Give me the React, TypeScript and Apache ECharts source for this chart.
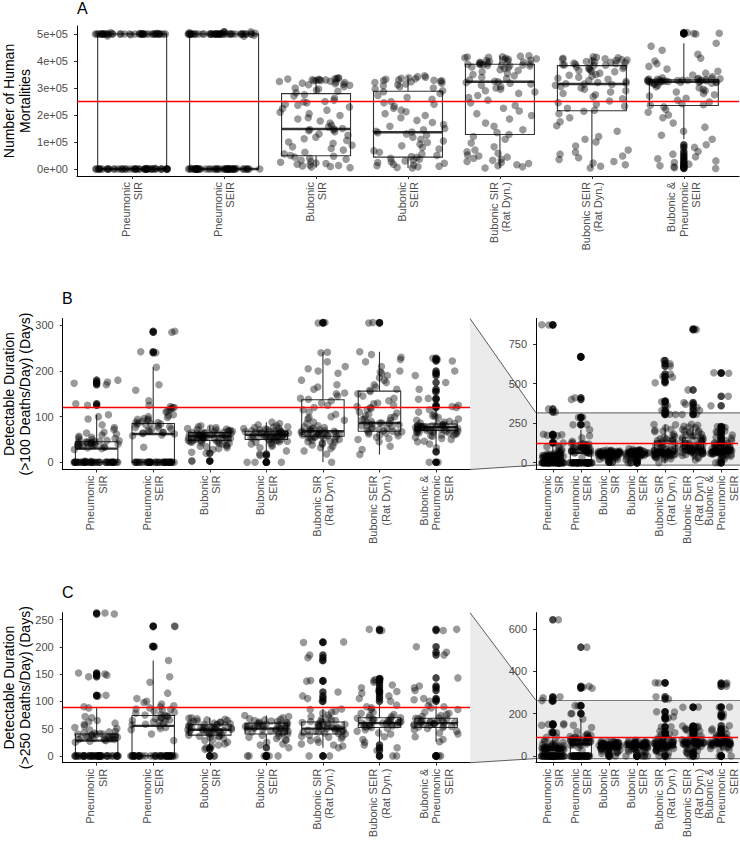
import React, { useEffect, useRef } from 'react';
import * as echarts from 'echarts';

const FONT = '"Liberation Sans", Arial, Helvetica, sans-serif';

const CATEGORIES = [
  'Pneumonic\nSIR',
  'Pneumonic\nSEIR',
  'Bubonic\nSIR',
  'Bubonic\nSEIR',
  'Bubonic SIR\n(Rat Dyn.)',
  'Bubonic SEIR\n(Rat Dyn.)',
  'Bubonic &\nPneumonic\nSEIR',
];

// ---------- Panel A: number of human mortalities (thousands) ----------
const A_PNEU_SIR_K = [
  500, 500, 500, 500, 500, 500, 500, 500, 500, 500,
  500, 500, 500, 500, 500, 500, 500, 500, 500, 500,
  500, 500, 500, 500, 500, 500, 500, 500, 500, 500,
  500, 500, 500, 500, 500, 500, 500, 500, 500, 500,
  502, 503, 497, 493, 505,
  0, 0, 0, 0, 0, 0, 0, 0, 0, 0,
  0, 0, 0, 0, 0, 0, 0, 0, 0, 0,
  0, 0, 0, 0, 0, 0, 0, 0, 0, 0,
  0, 0, 0, 0, 0, 0, 0, 0, 0, 0,
  0, 0, 0, 0, 0, 0, 0, 0, 2, 3,
];
const A_PNEU_SEIR_K = [
  500, 500, 500, 500, 500, 500, 500, 500, 500, 500,
  500, 500, 500, 500, 500, 500, 500, 500, 500, 500,
  500, 500, 500, 500, 500, 500, 500, 500, 500, 500,
  500, 500, 500, 500, 500, 500, 500, 500, 500, 500,
  500, 500, 505, 503, 495, 498, 508, 492,
  0, 0, 0, 0, 0, 0, 0, 0, 0, 0,
  0, 0, 0, 0, 0, 0, 0, 0, 0, 0,
  0, 0, 0, 0, 0, 0, 0, 0, 0, 0,
  0, 0, 0, 0, 0, 0, 0, 0, 0, 0,
  0, 0, 0, 0, 0, 0, 0, 0, 0, 0, 3, 2,
];
const A_BUB_SIR_K = [
  338, 336, 335, 334, 333, 332, 331, 330, 330, 329, 328, 327, 325, 324, 322, 320, 318, 316, 314, 312, 310, 305, 300, 296, 292, 288,
  282, 275, 270, 262, 255, 250, 248, 245, 240, 236, 230, 224,
  218, 210, 205, 198, 190, 185, 178, 170, 162, 156,
  150, 148, 146, 145, 142, 138, 130, 125, 118, 112, 106,
  100, 95, 88, 82, 76, 70, 62, 56, 50,
  47, 44, 40, 36, 32, 28, 25, 22, 20, 18, 15, 13, 11, 9, 7, 5,
];
const A_BUB_SEIR_K = [
  345, 342, 340, 338, 336, 334, 332, 330, 329, 328, 327, 325, 323, 320, 318, 315, 312, 308, 305, 300, 296, 290,
  286, 280, 272, 265, 258, 250, 245, 240, 232, 225, 218,
  212, 205, 198, 190, 180, 172, 165, 158, 150, 145,
  140, 137, 134, 130, 125, 118, 110, 104,
  98, 92, 86, 80, 74, 68, 62, 56, 50, 46,
  43, 40, 36, 32, 30, 27, 24, 21, 18, 15, 12, 10, 8, 6, 4,
];
const A_BUB_SIR_RAT_K = [
  419, 418, 416, 415, 414, 412, 410, 408, 406, 405, 403, 402, 400, 398, 396, 395, 393, 392, 390, 389, 388, 387, 386, 385, 384, 383, 382, 381,
  378, 375, 372, 368, 365, 360, 355, 350, 345, 340, 335, 330, 325, 323, 320, 318, 315, 310, 305, 300,
  295, 290, 285, 280, 272, 265, 255, 245, 235, 225, 215, 205,
  198, 185, 170, 158, 145, 135, 128,
  120, 110, 96, 82, 70, 64, 58, 52, 48, 44, 40, 36, 32, 28, 24, 20, 16, 12, 8, 4,
];
const A_BUB_SEIR_RAT_K = [
  416, 414, 412, 410, 408, 406, 405, 404, 402, 400, 398, 396, 395, 394, 392, 390, 388, 386, 385, 384, 383,
  380, 378, 375, 372, 370, 368, 365, 362, 360, 355, 350, 347, 344, 340, 336, 332, 328, 324, 320, 318, 316, 315, 313, 310, 306,
  300, 295, 290, 285, 280, 275, 268, 260, 252, 245, 240, 232, 225, 218,
  214, 205, 190, 175, 160, 140, 120, 110, 100, 85, 70, 62, 55, 48, 42, 35, 28, 22, 16, 10, 4,
];
const A_BUB_PNEU_K = [
  505, 503, 502, 500, 466, 455, 440, 425, 410, 400, 390, 380, 370, 362, 355, 348, 342,
  338, 336, 335, 334, 333, 332, 332, 331, 330, 330, 329, 329, 328, 328, 327, 327, 326, 326, 325, 325, 324, 324, 323, 323, 322, 322, 321, 321, 320, 320, 318, 316, 314,
  310, 305, 300, 295, 290, 285, 280, 275, 270, 262, 255, 248, 242, 238, 236,
  230, 220, 210, 200, 190, 170, 155, 140, 125, 110,
  90, 80, 65, 55, 45, 38, 30, 24, 18, 12, 8, 5, 2,
];
// box stats [whisker low, Q1, median, Q3, whisker high] (thousands)
const A_BOX_K = [
  [0, 0, 0, 500, 505],
  [0, 0, 0, 500, 505],
  [5, 49, 148, 279, 338],
  [4, 44, 136, 288, 345],
  [4, 128, 323, 388, 419],
  [4, 216, 315, 383, 416],
  [110, 235, 323, 330, 466],
];
const A_REF = 250000;
const A_TICKS = [0, 100000, 200000, 300000, 400000, 500000];

// ---------- Panel B: detectable duration (>100 deaths/day), days ----------
const B_PNEU_SIR = [
  0, 0, 0, 0, 0, 0, 0, 0, 0, 0, 0, 0, 0, 0, 0, 0, 0, 0, 0, 0,
  0, 0, 0, 0, 0, 0, 0, 0, 0, 0, 0, 0, 0, 0, 0, 0, 0, 0, 0, 0,
  0, 0, 2, 2, 2,
  28, 30, 32, 33, 34, 35, 35, 36, 37, 38, 38, 39, 40, 40, 41, 42, 42, 43, 44, 44, 45, 45, 46, 47, 48, 49, 50, 52, 54, 55, 57, 60,
  62, 64, 66, 72, 76, 82, 95, 100, 104,
  125, 128, 170, 173, 176, 180, 320, 340, 870, 872,
];
const B_PNEU_SEIR = [
  0, 0, 0, 0, 0, 0, 0, 0, 0, 0, 0, 0, 0, 0, 0, 0, 0, 0, 0, 0,
  0, 0, 0, 0, 0, 0, 0, 0, 0, 0, 0, 0, 0, 0, 0, 0, 0, 0, 0, 0,
  33, 58, 60, 62, 63, 64, 65, 66, 68, 70, 72, 73, 75, 76, 78, 80, 82, 83, 84, 85, 86, 87, 88, 90, 92, 94, 95, 96, 98, 100, 102, 104,
  110, 112, 115, 118, 120, 120, 122, 125, 135, 158, 170,
  208, 240, 242, 285, 287, 400, 410, 668, 670,
];
const B_BUB_SIR = [
  3, 3, 20, 22, 28, 30, 32, 34, 35, 36, 38, 40, 41, 42, 43, 44, 45, 45, 46, 47, 48, 48, 49, 50, 50, 51, 52, 52, 53, 54, 54, 55, 55, 56,
  56, 57, 57, 58, 58, 59, 59, 60, 60, 61, 61, 62, 62, 63, 63, 64, 64, 65, 65, 66, 67, 68, 68, 69, 70, 71, 72, 73, 74, 75, 76, 78, 80,
];
const B_BUB_SEIR = [
  0, 0, 0, 15, 18, 25, 32, 35, 38, 40, 42, 44, 45, 46, 47, 48, 49, 50, 50, 51, 52, 53, 54, 55, 55, 56, 57, 57, 58, 58, 59, 59, 60, 60,
  61, 61, 62, 62, 63, 63, 64, 64, 65, 65, 66, 66, 67, 67, 68, 68, 69, 70, 71, 72, 73, 74, 75, 76, 77, 78, 80, 82, 85, 88,
];
const B_BUB_SIR_RAT = [
  0, 18, 25, 30, 32, 35, 38, 40, 42, 44, 45, 46, 48, 50, 50, 52, 53, 54, 55, 56, 57, 58, 58, 59, 60, 60, 61, 62, 62, 63, 64, 65, 66, 66,
  67, 68, 68, 69, 70, 71, 72, 74, 75, 76, 78, 80, 85, 88, 92, 95, 98, 100, 105, 110, 115, 120, 125, 130, 135, 138, 140, 145, 150, 152,
  160, 165, 170, 180, 195, 200, 205, 210, 220, 240, 241,
  305, 306, 320, 330, 360, 385, 390, 505, 515, 540, 545, 560, 610, 625, 645,
];
const B_BUB_SEIR_RAT = [
  17, 28, 35, 45, 50, 52, 55, 58, 60, 62, 64, 65, 66, 67, 68, 69, 70, 72, 74, 75, 76, 78, 80, 80, 82, 84, 85, 86, 86, 88, 90, 92, 94, 95,
  98, 100, 102, 105, 108, 110, 115, 118, 120, 122, 125, 128, 130, 135, 140, 145, 150, 155, 158, 160, 165, 170, 175, 180, 185, 190, 195,
  198, 200, 210, 220, 225, 230, 236, 242,
  305, 306, 330, 350, 370, 380, 460, 840, 845,
];
const B_BUB_PNEU = [
  0, 0, 23, 46, 32, 40, 45, 50, 52, 55, 57, 58, 60, 60, 62, 63, 64, 65, 65, 66, 67, 68, 68, 69, 70, 70, 71, 71, 72, 72, 73, 73, 74, 74,
  75, 75, 76, 76, 77, 77, 78, 78, 79, 79, 80, 80, 81, 82, 83, 84, 85, 86, 88, 90, 92, 95, 98, 100, 102, 105, 110, 115,
  120, 122, 125, 138, 140, 155, 160, 175, 190, 195, 200, 222, 225, 228, 360, 420, 565, 568,
];
const B_BOX = [
  [0, 0, 30, 45, 104],
  [0, 0, 62, 85, 208],
  [22, 48, 57, 65, 80],
  [25, 50, 60, 68, 88],
  [0, 57, 68, 137, 241],
  [17, 68, 86, 156, 242],
  [32, 70, 77, 84, 115],
];
const B_REF = 120;
const B_TICKS = [0, 100, 200, 300];
const BZ_TICKS = [0, 250, 500, 750];

// ---------- Panel C: detectable duration (>250 deaths/day), days ----------
const C_PNEU_SIR = [
  0, 0, 0, 0, 0, 0, 0, 0, 0, 0, 0, 0, 0, 0, 0, 0, 0, 0, 0, 0,
  0, 0, 0, 0, 0, 0, 0, 0, 0, 0, 0, 0, 0, 0, 0, 0, 0, 0, 0, 0,
  0, 0, 0, 0,
  25, 27, 28, 29, 30, 30, 31, 32, 32, 33, 33, 34, 34, 35, 35, 36, 36, 37, 38, 38, 39, 40, 40, 41, 42, 43, 44, 45, 48, 50, 52, 55,
  58, 60, 62, 65, 70, 72, 88, 90,
  110, 111, 145, 148, 150, 152, 260, 262, 275, 280, 645,
];
const C_PNEU_SEIR = [
  0, 0, 0, 0, 0, 0, 0, 0, 0, 0, 0, 0, 0, 0, 0, 0, 0, 0, 0, 0,
  0, 0, 0, 0, 0, 0, 0, 0, 0, 0, 0, 0, 0, 0, 0, 0, 0, 0, 0, 0,
  28, 40, 48, 50, 52, 55, 57, 58, 60, 62, 63, 64, 65, 66, 68, 70, 70, 72, 73, 74, 75, 76, 78, 80, 82, 84, 85, 86, 88, 90, 92, 95,
  98, 100, 105, 115, 135, 145, 175,
  200, 201, 237, 238, 320, 325, 330, 515,
];
const C_BUB_SIR = [
  0, 0, 12, 15, 18, 20, 22, 25, 28, 30, 32, 34, 35, 36, 37, 38, 39, 40, 41, 42, 43, 44, 45, 45, 46, 46, 47, 47, 48, 48, 49, 49, 50, 50,
  51, 51, 52, 52, 53, 54, 55, 55, 56, 57, 58, 58, 59, 60, 60, 61, 62, 63, 64, 65, 66, 67, 68, 69, 70,
];
const C_BUB_SEIR = [
  0, 0, 0, 0, 0, 15, 20, 22, 25, 28, 30, 32, 34, 36, 38, 40, 41, 42, 43, 44, 45, 46, 47, 48, 48, 49, 50, 50, 51, 51, 52, 52, 53, 53,
  54, 55, 55, 56, 57, 57, 58, 58, 59, 60, 60, 61, 62, 63, 64, 65, 66, 67, 68, 70, 72, 74,
];
const C_BUB_SIR_RAT = [
  0, 0, 15, 18, 20, 22, 25, 28, 30, 32, 34, 35, 36, 38, 40, 41, 42, 43, 44, 45, 46, 46, 47, 48, 48, 49, 50, 50, 51, 52, 53, 54, 55, 55,
  56, 57, 58, 59, 60, 61, 62, 63, 64, 65, 66, 68, 70, 72, 75, 78, 80, 82, 85, 86,
  100, 105, 110, 117, 137, 138, 175, 180, 185, 208, 209, 270, 280, 345, 346,
];
const C_BUB_SEIR_RAT = [
  0, 0, 10, 15, 20, 25, 30, 35, 40, 42, 45, 48, 50, 52, 53, 54, 55, 55, 56, 57, 58, 58, 59, 60, 60, 61, 61, 62, 62, 63, 64, 65, 66, 67,
  68, 69, 70, 70, 72, 74, 76, 78, 80, 85, 88, 90, 93,
  100, 105, 110, 115, 118, 120, 125, 130, 135, 138, 140, 142, 230, 232,
];
const C_BUB_PNEU = [
  0, 0, 0, 26, 30, 35, 40, 42, 45, 48, 50, 52, 53, 54, 55, 56, 56, 57, 58, 58, 59, 60, 60, 61, 61, 62, 62, 63, 64, 65, 66, 67, 68, 69,
  70, 72, 74, 76, 78, 80, 85, 88, 90, 92,
  100, 103, 105, 120, 125, 128, 143, 185, 190, 200, 230, 232, 330, 340, 345,
];
const C_BOX = [
  [0, 0, 28, 40, 90],
  [0, 0, 55, 74, 175],
  [18, 38, 48, 57, 70],
  [20, 40, 50, 60, 74],
  [15, 40, 50, 62, 86],
  [25, 52, 60, 70, 93],
  [26, 52, 60, 69, 92],
];
const C_REF = 90;
const C_TICKS = [0, 50, 100, 150, 200, 250];
const CZ_TICKS = [0, 200, 400, 600];

// ---------- layout (pixels / axis ranges) ----------
const GRID_A = { left: 77, top: 26, width: 662, height: 150, yMin: -25900, yMax: 529600 };
const GRID_B = { left: 62.7, top: 318.5, width: 407.3, height: 151, yMin: -15.75, yMax: 315 };
const GRID_BZ = { left: 536, top: 318.5, width: 202, height: 151, yMin: -43, yMax: 911 };
const GRID_C = { left: 62.7, top: 612.7, width: 407.3, height: 150, yMin: -12.5, yMax: 262.5 };
const GRID_CZ = { left: 536, top: 612.7, width: 202, height: 150, yMin: -32, yMax: 678 };

const X_MIN = -0.6;
const X_MAX = 6.6;
const CAT_IDX = [0, 1, 2, 3, 4, 5, 6];
// empty labels at the axis ends keep ECharts from hiding the outer category labels
const LABEL_POS = [X_MIN, ...CAT_IDX, X_MAX];

function jitter(g: number, k: number, p: number) {
  const s = Math.sin(g * 127.1 + k * 311.7 + p * 74.7) * 43758.5453;
  return (s - Math.floor(s) - 0.5) * 0.8;
}

function buildPanel(
  idx: number,
  grid: any,
  groups: number[][],
  boxes: number[][],
  scale: number,
  ref: number,
  ticks: number[],
  fmt: (v: number) => string
) {
  const gridOpt = { left: grid.left, top: grid.top, width: grid.width, height: grid.height, containLabel: false };
  const xAxis = {
    type: 'value',
    gridIndex: idx,
    min: X_MIN,
    max: X_MAX,
    axisLine: { show: true, onZero: false, lineStyle: { color: '#000', width: 1 } },
    axisTick: { show: true, length: 3, customValues: CAT_IDX, lineStyle: { color: '#333', width: 1 } },
    axisLabel: {
      customValues: LABEL_POS,
      formatter: (v: number) => (Math.abs(v - Math.round(v)) < 1e-6 ? CATEGORIES[Math.round(v)] ?? '' : ''),
      rotate: 90,
      margin: 6,
      fontSize: 11,
      lineHeight: 12.5,
      color: '#4d4d4d',
      fontFamily: FONT,
      hideOverlap: false,
      showMinLabel: true,
      showMaxLabel: true,
      interval: 0,
    },
    splitLine: { show: false },
  };
  const yAxis = {
    type: 'value',
    gridIndex: idx,
    min: grid.yMin,
    max: grid.yMax,
    axisLine: { show: true, onZero: false, lineStyle: { color: '#000', width: 1 } },
    axisTick: { show: true, length: 3, customValues: ticks, lineStyle: { color: '#333', width: 1 } },
    axisLabel: {
      customValues: ticks,
      formatter: fmt,
      margin: 9,
      fontSize: 11,
      color: '#4d4d4d',
      fontFamily: FONT,
      hideOverlap: false,
    },
    splitLine: { show: false },
  };

  const boxData = boxes.map((b, i) => [i, ...b.map((v) => v * scale)]);
  const outliers: number[][] = [];
  const points: number[][] = [];
  groups.forEach((vals, g) => {
    const b = boxes[g];
    vals.forEach((v, k) => {
      if (v < b[0] || v > b[4]) outliers.push([g, v * scale]);
      points.push([g + jitter(g, k, idx), v * scale]);
    });
  });

  const series = [
    {
      type: 'custom',
      xAxisIndex: idx,
      yAxisIndex: idx,
      clip: true,
      z: 1,
      encode: { x: 0, y: [1, 2, 3, 4, 5] },
      data: boxData,
      renderItem: (params: any, api: any) => {
        const g = api.value(0);
        const lo = api.value(1);
        const q1 = api.value(2);
        const md = api.value(3);
        const q3 = api.value(4);
        const hi = api.value(5);
        const xl = api.coord([g - 0.375, md])[0];
        const xr = api.coord([g + 0.375, md])[0];
        const xc = api.coord([g, md])[0];
        const y = (v: number) => api.coord([g, v])[1];
        const st = { stroke: '#333', lineWidth: 1.1, fill: null };
        return {
          type: 'group',
          children: [
            { type: 'line', shape: { x1: xc, y1: y(hi), x2: xc, y2: y(q3) }, style: st },
            { type: 'line', shape: { x1: xc, y1: y(q1), x2: xc, y2: y(lo) }, style: st },
            {
              type: 'rect',
              shape: { x: xl, y: y(q3), width: xr - xl, height: y(q1) - y(q3) },
              style: { stroke: '#333', lineWidth: 1.1, fill: '#fff' },
            },
            { type: 'line', shape: { x1: xl, y1: y(md), x2: xr, y2: y(md) }, style: { stroke: '#333', lineWidth: 2.4 } },
          ],
        };
      },
    },
    {
      type: 'scatter',
      xAxisIndex: idx,
      yAxisIndex: idx,
      clip: true,
      z: 2,
      symbolSize: 7.5,
      itemStyle: { color: 'rgba(0,0,0,0.92)' },
      data: outliers,
      silent: true,
    },
    {
      type: 'scatter',
      xAxisIndex: idx,
      yAxisIndex: idx,
      clip: true,
      z: 3,
      symbolSize: 7.5,
      itemStyle: { color: 'rgba(0,0,0,0.5)' },
      data: points,
      silent: true,
      markLine: {
        silent: true,
        symbol: 'none',
        label: { show: false },
        lineStyle: { color: '#ff0000', width: 1.3, type: 'solid' },
        data: [{ yAxis: ref }],
      },
    },
  ];
  return { grid: gridOpt, xAxis, yAxis, series };
}

function yPix(grid: any, v: number) {
  return grid.top + ((grid.yMax - v) / (grid.yMax - grid.yMin)) * grid.height;
}

function zoomGraphics(main: any, zoom: any) {
  const yTop = yPix(zoom, main.yMax);
  const yBot = yPix(zoom, main.yMin);
  const mx = main.left + main.width;
  const zx = zoom.left;
  const zr = zoom.left + zoom.width + 2;
  const mTop = main.top;
  const mBot = main.top + main.height;
  return [
    {
      type: 'polygon',
      z: -1,
      shape: { points: [[mx, mTop], [zx, yTop], [zx, yBot], [mx, mBot]] },
      style: { fill: '#ebebeb', stroke: null },
      silent: true,
    },
    {
      type: 'rect',
      z: -1,
      shape: { x: zx + 0.5, y: yTop, width: zr - zx, height: yBot - yTop },
      style: { fill: '#ebebeb', stroke: null },
      silent: true,
    },
    { type: 'line', z: -1, shape: { x1: zx, y1: yTop, x2: zr, y2: yTop }, style: { stroke: '#7a7a7a', lineWidth: 1.2 }, silent: true },
    { type: 'line', z: -1, shape: { x1: zx, y1: yBot, x2: zr, y2: yBot }, style: { stroke: '#7a7a7a', lineWidth: 1.2 }, silent: true },
    { type: 'line', z: 5, shape: { x1: mx, y1: mTop, x2: zx, y2: yTop }, style: { stroke: '#333', lineWidth: 0.8 }, silent: true },
    { type: 'line', z: 5, shape: { x1: mx, y1: mBot, x2: zx, y2: yBot }, style: { stroke: '#333', lineWidth: 0.8 }, silent: true },
  ];
}

function titleText(x: number, y: number, text: string) {
  return {
    type: 'text',
    x,
    y,
    rotation: Math.PI / 2,
    silent: true,
    style: {
      text,
      font: `14px ${FONT}`,
      fill: '#000',
      align: 'center',
      verticalAlign: 'middle',
      lineHeight: 16,
    },
  };
}

function letter(x: number, y: number, text: string) {
  return {
    type: 'text',
    x,
    y,
    silent: true,
    style: { text, font: `16px ${FONT}`, fill: '#000', align: 'left', verticalAlign: 'top' },
  };
}

export default function App() {
  const ref = useRef<HTMLDivElement>(null);
  useEffect(() => {
    document.body.style.margin = '0';
    if (!ref.current) return;
    const chart = echarts.init(ref.current, undefined, { renderer: 'svg' });

    const aGroups = [A_PNEU_SIR_K, A_PNEU_SEIR_K, A_BUB_SIR_K, A_BUB_SEIR_K, A_BUB_SIR_RAT_K, A_BUB_SEIR_RAT_K, A_BUB_PNEU_K];
    const bGroups = [B_PNEU_SIR, B_PNEU_SEIR, B_BUB_SIR, B_BUB_SEIR, B_BUB_SIR_RAT, B_BUB_SEIR_RAT, B_BUB_PNEU];
    const cGroups = [C_PNEU_SIR, C_PNEU_SEIR, C_BUB_SIR, C_BUB_SEIR, C_BUB_SIR_RAT, C_BUB_SEIR_RAT, C_BUB_PNEU];
    const fmtA = (v: number) => (v === 0 ? '0e+00' : `${Math.round(v / 100000)}e+05`);
    const fmtN = (v: number) => `${v}`;

    const panels = [
      buildPanel(0, GRID_A, aGroups, A_BOX_K, 1000, A_REF, A_TICKS, fmtA),
      buildPanel(1, GRID_B, bGroups, B_BOX, 1, B_REF, B_TICKS, fmtN),
      buildPanel(2, GRID_BZ, bGroups, B_BOX, 1, B_REF, BZ_TICKS, fmtN),
      buildPanel(3, GRID_C, cGroups, C_BOX, 1, C_REF, C_TICKS, fmtN),
      buildPanel(4, GRID_CZ, cGroups, C_BOX, 1, C_REF, CZ_TICKS, fmtN),
    ];

    const graphics: any[] = [
      ...zoomGraphics(GRID_B, GRID_BZ),
      ...zoomGraphics(GRID_C, GRID_CZ),
      letter(77, 0, 'A'),
      letter(62, 290, 'B'),
      letter(62, 584, 'C'),
      titleText(17, GRID_A.top + GRID_A.height / 2, 'Number of Human\nMortalities'),
      titleText(17, GRID_B.top + GRID_B.height / 2, 'Detectable Duration\n(>100 Deaths/Day) (Days)'),
      titleText(17, GRID_C.top + GRID_C.height / 2, 'Detectable Duration\n(>250 Deaths/Day) (Days)'),
    ];

    chart.setOption({
      animation: false,
      backgroundColor: '#ffffff',
      textStyle: { fontFamily: FONT },
      grid: panels.map((p) => p.grid),
      xAxis: panels.map((p) => p.xAxis),
      yAxis: panels.map((p) => p.yAxis),
      series: panels.flatMap((p) => p.series),
      graphic: graphics,
    });
    return () => chart.dispose();
  }, []);
  return <div ref={ref} style={{ width: 740, height: 846 }} />;
}
